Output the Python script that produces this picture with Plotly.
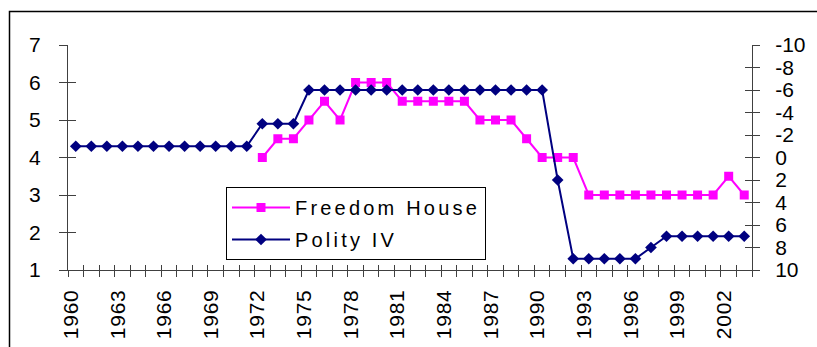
import plotly.graph_objects as go

# Annual observations, 1960-2003
years = [1960, 1961, 1962, 1963, 1964, 1965, 1966, 1967, 1968, 1969, 1970,
         1971, 1972, 1973, 1974, 1975, 1976, 1977, 1978, 1979, 1980, 1981,
         1982, 1983, 1984, 1985, 1986, 1987, 1988, 1989, 1990, 1991, 1992,
         1993, 1994, 1995, 1996, 1997, 1998, 1999, 2000, 2001, 2002, 2003]

# Freedom House average rating (1 = most free, 7 = least free); no data before 1972
freedom_house = [None, None, None, None, None, None, None, None, None, None, None,
                 None, 4.0, 4.5, 4.5, 5.0, 5.5, 5.0, 6.0, 6.0, 6.0, 5.5,
                 5.5, 5.5, 5.5, 5.5, 5.0, 5.0, 5.0, 4.5, 4.0, 4.0, 4.0,
                 3.0, 3.0, 3.0, 3.0, 3.0, 3.0, 3.0, 3.0, 3.0, 3.5, 3.0]

# Polity IV score (-10 = autocracy, 10 = democracy), plotted on a reversed right axis
polity_iv = [-1, -1, -1, -1, -1, -1, -1, -1, -1, -1, -1,
             -1, -3, -3, -3, -6, -6, -6, -6, -6, -6, -6,
             -6, -6, -6, -6, -6, -6, -6, -6, -6, 2, 9,
             9, 9, 9, 9, 8, 7, 7, 7, 7, 7, 7]

label_years = [1960, 1963, 1966, 1969, 1972, 1975, 1978, 1981, 1984, 1987,
               1990, 1993, 1996, 1999, 2002]
left_ticks = [1, 2, 3, 4, 5, 6, 7]
right_ticks = [-10, -8, -6, -4, -2, 0, 2, 4, 6, 8, 10]
right_tick_text = ["-10", "-8", "-6", "-4", "-2", "0", "2", "4", "6", "8", "10"]

FONT = "Liberation Sans, Arial, sans-serif"
AXIS_COLOR = "#404040"

x_range = [years[0] - 0.5, years[-1] + 0.5]
boundaries = [y - 0.5 for y in years] + [years[-1] + 0.5]
# rotated year labels sit slightly left of their category centre
label_pos = [y - 0.3 for y in label_years]


def spaced(text, px=3.2):
    return f'<span style="letter-spacing:{px}px">{text}</span>'


fig = go.Figure()

fig.add_trace(go.Scatter(
    x=years, y=freedom_house, name=spaced("Freedom House"),
    mode="lines+markers", xaxis="x", yaxis="y", legendgroup="fh",
    line=dict(color="#FF00FF", width=2),
    marker=dict(symbol="square", size=9, color="#FF00FF"),
    connectgaps=False,
))
fig.add_trace(go.Scatter(
    x=years, y=polity_iv, name=spaced("Polity IV"),
    mode="lines+markers", xaxis="x2", yaxis="y2", legendgroup="p4",
    line=dict(color="#000080", width=2),
    marker=dict(symbol="diamond", size=9, color="#000080"),
))
# empty traces that carry the inner halves of the crossing y ticks
fig.add_trace(go.Scatter(x=[], y=[], xaxis="x", yaxis="y3", showlegend=False, hoverinfo="skip"))
fig.add_trace(go.Scatter(x=[], y=[], xaxis="x2", yaxis="y4", showlegend=False, hoverinfo="skip"))

tick_font = dict(family=FONT, size=21, color="black")

fig.update_layout(
    width=817, height=347, autosize=False,
    margin=dict(l=68, r=65, t=45, b=77, pad=0),
    paper_bgcolor="white", plot_bgcolor="white",
    showlegend=True,
    xaxis=dict(
        range=x_range, anchor="y", showgrid=False, zeroline=False, automargin=False,
        showline=True, linecolor=AXIS_COLOR, linewidth=1,
        tickmode="array", tickvals=label_pos,
        ticktext=[spaced(str(y), 0.8) for y in label_years],
        ticks="", tickangle=-90, tickfont=tick_font, ticklabelstandoff=10,
        minor=dict(tickmode="array", tickvals=boundaries, ticks="outside",
                   ticklen=6, tickcolor=AXIS_COLOR, tickwidth=1, showgrid=False),
    ),
    xaxis2=dict(
        range=x_range, overlaying="x", anchor="y2", side="bottom", automargin=False,
        showgrid=False, zeroline=False, showline=False, showticklabels=False,
        tickmode="array", tickvals=boundaries, ticks="inside", ticklen=5,
        tickcolor=AXIS_COLOR, tickwidth=1,
    ),
    yaxis=dict(
        range=[1, 7], anchor="x", showgrid=False, zeroline=False, automargin=False,
        showline=True, linecolor=AXIS_COLOR, linewidth=1,
        tickmode="array", tickvals=left_ticks, ticks="outside", ticklen=8,
        tickcolor=AXIS_COLOR, tickwidth=1, tickfont=tick_font, ticklabelstandoff=14,
    ),
    yaxis3=dict(
        range=[1, 7], overlaying="y", anchor="x", side="left", automargin=False,
        showgrid=False, zeroline=False, showline=False, showticklabels=False,
        tickmode="array", tickvals=left_ticks, ticks="inside", ticklen=8,
        tickcolor=AXIS_COLOR, tickwidth=1,
    ),
    yaxis2=dict(
        range=[10, -10], overlaying="y", anchor="x2", side="right", automargin=False,
        showgrid=False, zeroline=False,
        showline=True, linecolor=AXIS_COLOR, linewidth=1,
        tickmode="array", tickvals=right_ticks, ticktext=right_tick_text,
        ticks="outside", ticklen=7,
        tickcolor=AXIS_COLOR, tickwidth=1, tickfont=tick_font, ticklabelstandoff=11,
    ),
    yaxis4=dict(
        range=[10, -10], overlaying="y", anchor="x2", side="right", automargin=False,
        showgrid=False, zeroline=False, showline=False, showticklabels=False,
        tickmode="array", tickvals=right_ticks, ticks="inside", ticklen=7,
        tickcolor=AXIS_COLOR, tickwidth=1,
    ),
    legend=dict(
        x=0.231, y=0.369, xanchor="left", yanchor="top",
        bgcolor="white", bordercolor="black", borderwidth=1,
        font=dict(family=FONT, size=20, color="black"),
        traceorder="grouped", tracegroupgap=3, itemwidth=58,
    ),
    shapes=[dict(
        type="rect", xref="paper", yref="paper",
        x0=(9.5 - 68) / 684, x1=(840 - 68) / 684,
        y0=(270 - 380) / 225, y1=(270 - 11.5) / 225,
        line=dict(color="black", width=1.5), fillcolor="rgba(0,0,0,0)", layer="below",
    )],
)

fig.write_html("out.html")
